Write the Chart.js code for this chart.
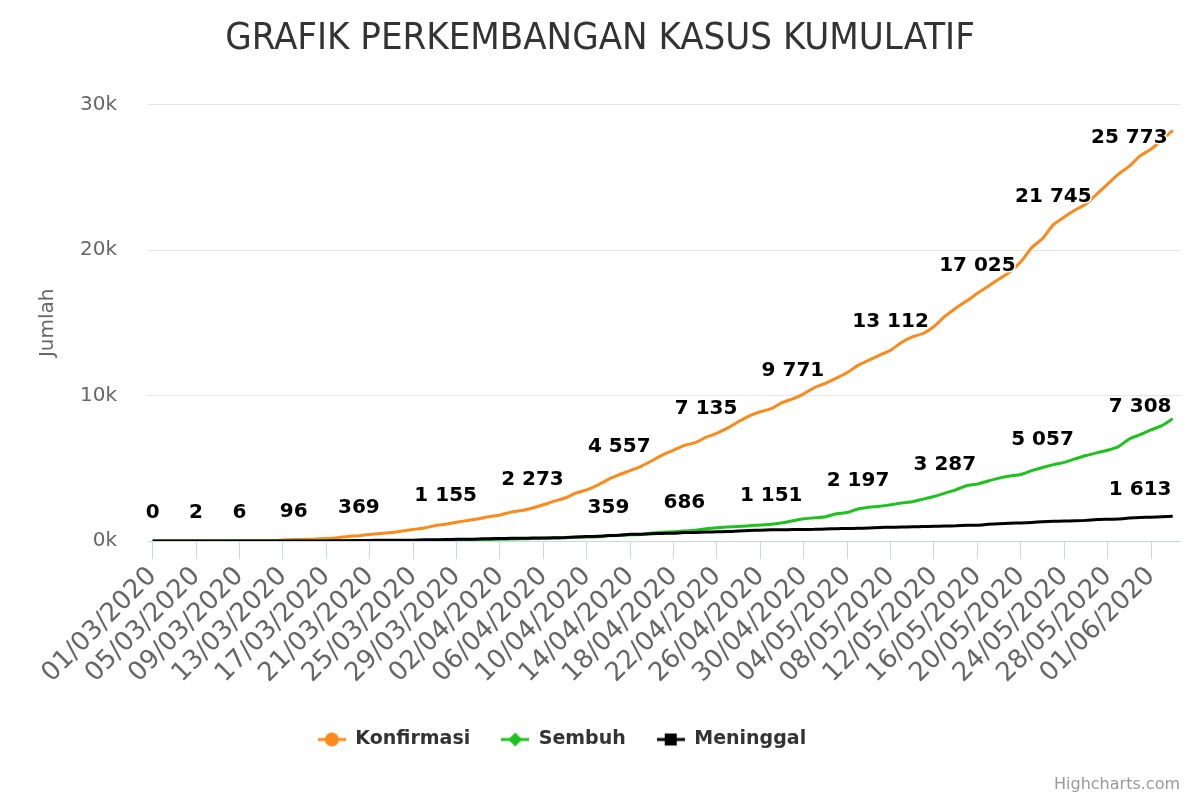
<!DOCTYPE html>
<html>
<head>
<meta charset="utf-8">
<script src="https://cdn.jsdelivr.net/npm/chart.js@4"></script>
<style>
  html, body { margin: 0; padding: 0; background: #fff; }
  #wrap { width: 1200px; height: 800px; }
</style>
</head>
<body>
<div id="wrap"><canvas id="myChart" width="1200" height="800"></canvas></div>
<script>
// tanggal 01/03/2020 .. 03/06/2020
const dates = [
  "01/03/2020","02/03/2020","03/03/2020","04/03/2020","05/03/2020","06/03/2020","07/03/2020","08/03/2020","09/03/2020","10/03/2020",
  "11/03/2020","12/03/2020","13/03/2020","14/03/2020","15/03/2020","16/03/2020","17/03/2020","18/03/2020","19/03/2020","20/03/2020",
  "21/03/2020","22/03/2020","23/03/2020","24/03/2020","25/03/2020","26/03/2020","27/03/2020","28/03/2020","29/03/2020","30/03/2020",
  "31/03/2020","01/04/2020","02/04/2020","03/04/2020","04/04/2020","05/04/2020","06/04/2020","07/04/2020","08/04/2020","09/04/2020",
  "10/04/2020","11/04/2020","12/04/2020","13/04/2020","14/04/2020","15/04/2020","16/04/2020","17/04/2020","18/04/2020","19/04/2020",
  "20/04/2020","21/04/2020","22/04/2020","23/04/2020","24/04/2020","25/04/2020","26/04/2020","27/04/2020","28/04/2020","29/04/2020",
  "30/04/2020","01/05/2020","02/05/2020","03/05/2020","04/05/2020","05/05/2020","06/05/2020","07/05/2020","08/05/2020","09/05/2020",
  "10/05/2020","11/05/2020","12/05/2020","13/05/2020","14/05/2020","15/05/2020","16/05/2020","17/05/2020","18/05/2020","19/05/2020",
  "20/05/2020","21/05/2020","22/05/2020","23/05/2020","24/05/2020","25/05/2020","26/05/2020","27/05/2020","28/05/2020","29/05/2020",
  "30/05/2020","31/05/2020","01/06/2020","02/06/2020","03/06/2020"
];

const konfirmasi = [
  0,2,2,2,2,4,4,4,6,19,27,34,69,96,117,134,172,227,309,369,450,514,579,686,790,893,1046,1155,1285,1414,1528,
  1677,1790,1986,2092,2273,2491,2738,2956,3293,3512,3842,4241,4557,4839,5136,5516,5923,6248,6575,6760,7135,7418,7775,8211,8607,8882,9096,9511,9771,10118,
  10551,10843,11192,11587,12071,12438,12776,13112,13645,14032,14265,14749,15438,16006,16496,17025,17514,18010,18496,19189,20162,20796,21745,22271,22750,23165,23851,24538,25216,25773,26473,
  26940,27549,28233
];
const sembuh = [
  0,0,0,0,0,0,0,0,0,0,0,0,3,8,8,8,9,11,15,15,20,29,30,30,31,35,46,59,64,75,81,
  103,112,134,150,164,192,204,222,252,282,286,359,380,426,446,548,607,631,686,747,842,913,960,1002,1042,1107,1151,1254,1391,1522,
  1591,1665,1876,1954,2197,2317,2381,2494,2607,2698,2881,3063,3287,3518,3803,3911,4129,4324,4467,4575,4838,5057,5249,5402,5642,5877,6057,6240,6492,7015,7308,
  7637,7935,8406
];
const meninggal = [
  0,0,0,0,0,0,0,0,0,0,1,1,4,5,5,5,5,19,25,32,38,48,49,55,58,78,87,102,114,122,136,
  157,170,181,191,198,209,221,240,280,306,327,373,399,459,469,496,520,535,582,590,616,635,647,689,720,743,765,773,784,792,
  800,831,845,864,872,895,930,943,959,973,991,1007,1028,1043,1076,1089,1148,1191,1221,1242,1278,1326,1351,1372,1391,1418,1473,1496,1520,1573,1613,
  1641,1663,1698
];

// label angka yang kelihatan di grafik
const konfLabelIdx = [0,4,8,13,19,27,35,43,51,59,68,76,83,90];
const sembuhLabelIdx = [42,49,57,65,73,82,91];
const meninggalLabelIdx = [91];

const tickIdx = [0,4,8,12,16,20,24,28,32,36,40,44,48,52,56,60,64,68,72,76,80,84,88,92];
const yTicks = [0,10000,20000,30000];

const colors = ["#fb8a1a","#1ec21e","#000000"];
const seriesNames = ["Konfirmasi","Sembuh","Meninggal"];
const shapes = ["circle","diamond","square"];

const font = "'DejaVu Sans', sans-serif";

function toPoints(arr){
    return arr.map((v, i) => ({x: i, y: v}));
}

function fmt(v){
    return String(v).replace(/\B(?=(\d{3})+(?!\d))/g, " ");
}

function legendIcon(color, shape){
    let c = document.createElement("canvas");
    c.width = 28; c.height = 16;
    let ctx = c.getContext("2d");
    ctx.strokeStyle = color;
    ctx.fillStyle = color;
    ctx.lineWidth = 3;
    ctx.beginPath(); ctx.moveTo(0, 8); ctx.lineTo(28, 8); ctx.stroke();
    ctx.beginPath();
    if (shape === "circle") {
        ctx.arc(14, 8, 7, 0, Math.PI * 2);
    } else if (shape === "diamond") {
        ctx.moveTo(14, 1); ctx.lineTo(21, 8); ctx.lineTo(14, 15); ctx.lineTo(7, 8); ctx.closePath();
    } else {
        ctx.rect(8, 2, 12, 12);
    }
    ctx.fill();
    return c;
}
const icons = colors.map((c, i) => legendIcon(c, shapes[i]));

const dataLabelPlugin = {
    id: "dataLabels",
    afterDatasetsDraw(chart){
        const ctx = chart.ctx;
        const lists = [konfLabelIdx, sembuhLabelIdx, meninggalLabelIdx];
        ctx.save();
        ctx.font = "bold 20px " + font;
        ctx.textAlign = "center";
        ctx.textBaseline = "middle";
        ctx.lineJoin = "round";
        chart.data.datasets.forEach((ds, d) => {
            const meta = chart.getDatasetMeta(d);
            lists[d].forEach(i => {
                const p = meta.data[i];
                const txt = fmt(ds.data[i].y);
                ctx.strokeStyle = "#ffffff";
                ctx.lineWidth = 3;
                ctx.strokeText(txt, p.x, p.y - 28);
                ctx.fillStyle = "#000000";
                ctx.fillText(txt, p.x, p.y - 28);
            });
        });
        ctx.restore();
    }
};

const creditPlugin = {
    id: "credit",
    afterLayout(chart){
        // geser legend & judul seperti aslinya
        chart.legend.left -= 28;
        chart.legend.right -= 28;
        chart.titleBlock.left += 10;
        chart.titleBlock.right += 10;
    },
    afterDraw(chart){
        const ctx = chart.ctx;
        ctx.save();
        ctx.font = "16px " + font;
        ctx.fillStyle = "#999999";
        ctx.textAlign = "right";
        ctx.textBaseline = "alphabetic";
        ctx.fillText("Highcharts.com", 1180, 789);
        ctx.restore();
    }
};

const defaultLabels = Chart.defaults.plugins.legend.labels.generateLabels;

new Chart("myChart", {
    type: "line",
    data: {
        datasets: [konfirmasi, sembuh, meninggal].map((arr, i) => ({
            label: seriesNames[i],
            data: toPoints(arr),
            borderColor: colors[i],
            backgroundColor: colors[i],
            borderWidth: 3,
            pointRadius: 0,
            tension: 0.2,
            order: 3 - i
        }))
    },
    options: {
        responsive: false,
        animation: false,
        events: [],
        layout: { padding: { top: 0, left: 0, right: 20, bottom: 41 } },
        plugins: {
            tooltip: { enabled: false },
            title: {
                display: true,
                text: "GRAFIK PERKEMBANGAN KASUS KUMULATIF",
                color: "#333333",
                font: { family: "'DejaVu Sans Condensed', 'Liberation Sans Narrow', 'DejaVu Sans', sans-serif", size: 38, weight: "normal" },
                padding: { top: 16, bottom: 43 }
            },
            legend: {
                position: "bottom",
                labels: {
                    usePointStyle: true,
                    pointStyleWidth: 28,
                    padding: 31,
                    color: "#333333",
                    font: { family: font, size: 19, weight: "bold" },
                    sort: (a, b) => a.datasetIndex - b.datasetIndex,
                    generateLabels: chart => defaultLabels(chart).map(l => Object.assign(l, { pointStyle: icons[l.datasetIndex] }))
                }
            }
        },
        scales: {
            x: {
                type: "linear",
                min: -0.43,
                max: 94.67,
                afterBuildTicks: scale => { scale.ticks = tickIdx.map(v => ({ value: v })); },
                afterFit: scale => { scale.height = 158; },
                border: { color: "#ccd6eb", width: 1 },
                grid: { drawOnChartArea: false, color: "#ccd6eb", tickLength: 18 },
                ticks: {
                    autoSkip: false,
                    maxRotation: 45,
                    minRotation: 45,
                    padding: 2,
                    color: "#666666",
                    font: { family: font, size: 26 },
                    callback: v => dates[v]
                }
            },
            y: {
                min: 0,
                max: 30000,
                afterBuildTicks: scale => { scale.ticks = yTicks.map(v => ({ value: v })); },
                afterFit: scale => { scale.width = 148; },
                border: { display: false },
                grid: { color: "#e6e6e6", drawTicks: false },
                ticks: {
                    padding: 31,
                    color: "#666666",
                    font: { family: font, size: 20 },
                    callback: v => (v / 1000) + "k"
                },
                title: {
                    display: true,
                    text: "Jumlah",
                    color: "#666666",
                    font: { family: font, size: 20 },
                    padding: { top: 36, bottom: 0 }
                }
            }
        }
    },
    plugins: [dataLabelPlugin, creditPlugin]
});
</script>
</body>
</html>
